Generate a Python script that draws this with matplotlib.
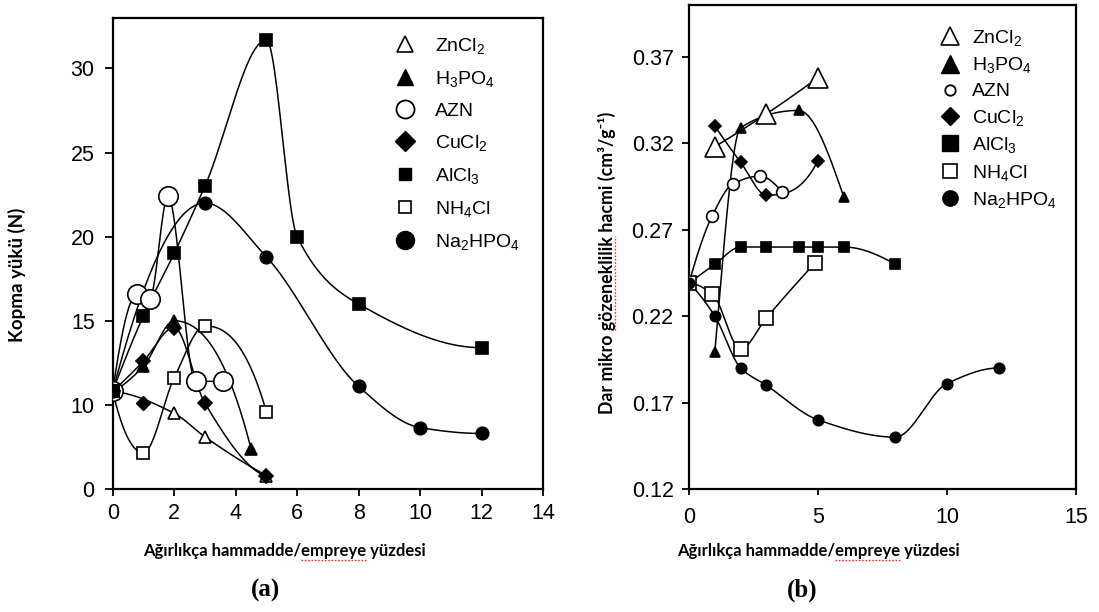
import numpy as np
import matplotlib
matplotlib.use("Agg")
import matplotlib.pyplot as plt
from matplotlib.lines import Line2D

plt.rcParams['font.family'] = ['Liberation Sans', 'DejaVu Sans']
plt.rcParams['mathtext.fontset'] = 'custom'
plt.rcParams['mathtext.rm'] = 'Liberation Sans'
plt.rcParams['mathtext.default'] = 'regular'

# ---------------- data: panel (a) breaking load (N) ----------------
a_zncl2_x = [0, 2, 3, 5]
a_zncl2_y = [10.8, 9.0, 6.2, 1.6]
a_h3po4_x = [0, 1, 2, 4.5]
a_h3po4_y = [10.8, 12.3, 15.0, 4.8]
a_azn_x = [0, 0.8, 1.2, 1.8, 2.7, 3.6]
a_azn_y = [10.8, 16.6, 16.3, 22.4, 11.4, 11.4]
a_cucl2_x = [0, 1, 2, 3, 5]
a_cucl2_y = [10.8, 12.6, 14.6, 10.1, 1.5]
a_cucl2_extra_x = [1]
a_cucl2_extra_y = [10.1]
a_alcl3_x = [0, 1, 2, 3, 5, 6, 8, 12]
a_alcl3_y = [10.8, 15.3, 19.0, 23.0, 31.7, 20.0, 16.0, 13.4]
a_nh4cl_x = [0, 1, 2, 3, 5]
a_nh4cl_y = [10.8, 4.3, 11.6, 14.7, 9.2]
a_na2hpo4_x = [0, 3, 5, 8, 10, 12]
a_na2hpo4_y = [10.8, 22.0, 18.8, 11.1, 7.3, 6.6]

a_xticks = [0, 2, 4, 6, 8, 10, 12, 14]
a_yticks = [0, 10, 15, 20, 25, 30]

# ---------------- data: panel (b) narrow micropore volume ----------------
b_zncl2_x = [1, 3, 5]
b_zncl2_y = [0.318, 0.337, 0.358]
b_h3po4_x = [1, 2, 4.25, 6]
b_h3po4_y = [0.199, 0.329, 0.339, 0.289]
b_azn_x = [0, 0.9, 1.7, 2.75, 3.6]
b_azn_y = [0.239, 0.278, 0.2965, 0.301, 0.292]
b_cucl2_x = [1, 2, 3, 5]
b_cucl2_y = [0.330, 0.309, 0.290, 0.310]
b_alcl3_x = [0, 1, 2, 3, 4.25, 5, 6, 8]
b_alcl3_y = [0.239, 0.250, 0.260, 0.260, 0.260, 0.260, 0.260, 0.250]
b_nh4cl_x = [0, 0.9, 2, 3, 4.9]
b_nh4cl_y = [0.239, 0.233, 0.201, 0.219, 0.251]
b_na2hpo4_x = [0, 1, 2, 3, 5, 8, 10, 12]
b_na2hpo4_y = [0.239, 0.220, 0.190, 0.180, 0.160, 0.150, 0.181, 0.190]

b_xticks = [0, 5, 10, 15]
b_yticks = [0.12, 0.17, 0.22, 0.27, 0.32, 0.37]

labels = ['ZnCl$_2$', 'H$_3$PO$_4$', 'AZN', 'CuCl$_2$', 'AlCl$_3$', 'NH$_4$Cl', 'Na$_2$HPO$_4$']
xlabel_text = 'Ağırlıkça hammadde/empreye yüzdesi'
ylabel_a = 'Kopma yükü (N)'
ylabel_b = 'Dar mikro gözeneklilik hacmi (cm³/g⁻¹)'


def pchip(x, y, num=300):
    x = np.asarray(x, float)
    y = np.asarray(y, float)
    if len(x) == 2:
        xs = np.linspace(x[0], x[-1], num)
        return xs, np.interp(xs, x, y)
    h = np.diff(x)
    d = np.diff(y) / h
    m = np.zeros_like(y)
    for k in range(1, len(x) - 1):
        if d[k - 1] * d[k] <= 0:
            m[k] = 0.0
        else:
            w1 = 2 * h[k] + h[k - 1]
            w2 = h[k] + 2 * h[k - 1]
            m[k] = (w1 + w2) / (w1 / d[k - 1] + w2 / d[k])

    def end(h0, h1, d0, d1):
        mm = ((2 * h0 + h1) * d0 - h0 * d1) / (h0 + h1)
        if np.sign(mm) != np.sign(d0):
            mm = 0.0
        elif np.sign(d0) != np.sign(d1) and abs(mm) > abs(3 * d0):
            mm = 3 * d0
        return mm

    m[0] = end(h[0], h[1], d[0], d[1])
    m[-1] = end(h[-1], h[-2], d[-1], d[-2])
    xs = np.linspace(x[0], x[-1], num)
    idx = np.clip(np.searchsorted(x, xs) - 1, 0, len(h) - 1)
    t = (xs - x[idx]) / h[idx]
    h00 = 2 * t**3 - 3 * t**2 + 1
    h10 = t**3 - 2 * t**2 + t
    h01 = -2 * t**3 + 3 * t**2
    h11 = t**3 - t**2
    ys = h00 * y[idx] + h10 * h[idx] * m[idx] + h01 * y[idx + 1] + h11 * h[idx] * m[idx + 1]
    return xs, ys


def fwd(v):
    v = np.asarray(v, float)
    return np.where(v < 10, v / 2.0, v - 5.0)


def inv(p):
    p = np.asarray(p, float)
    return np.where(p < 5, p * 2.0, p + 5.0)


W, H = 1099, 612
fig = plt.figure(figsize=(W / 100, H / 100), dpi=100)

axA = fig.add_axes([112.7 / W, (H - 489) / H, (543 - 112.7) / W, (489 - 18) / H])
axB = fig.add_axes([689 / W, (H - 489) / H, (1076 - 689) / W, (489 - 5) / H])

for ax in (axA, axB):
    for s in ax.spines.values():
        s.set_linewidth(1.6)
    ax.tick_params(direction='out', top=False, right=False, width=1.3,
                   labelsize=15.5)

# ---- panel (a) ----
axA.set_yscale('function', functions=(fwd, inv))
A_series = [
    (a_zncl2_x, a_zncl2_y, '^', 'white', 8),
    (a_h3po4_x, a_h3po4_y, '^', 'black', 8),
    (a_azn_x, a_azn_y, 'o', 'white', 14),
    (a_cucl2_x, a_cucl2_y, 'D', 'black', 7),
    (a_alcl3_x, a_alcl3_y, 's', 'black', 8.5),
    (a_nh4cl_x, a_nh4cl_y, 's', 'white', 8.5),
    (a_na2hpo4_x, a_na2hpo4_y, 'o', 'black', 9),
]
for x, y, mk, fc, ms in A_series:
    xs, ys = pchip(x, fwd(y))
    axA.plot(xs, inv(ys), color='black', lw=1.1, zorder=2)
    axA.plot(x, y, ls='none', marker=mk, mfc=fc, mec='black', mew=1.2, ms=ms, zorder=3)
axA.plot(a_cucl2_extra_x, a_cucl2_extra_y, ls='none', marker='D', mfc='black',
         mec='black', ms=7, zorder=3)
axA.set_xlim(0, 14)
axA.set_ylim(0, 33.0)
axA.set_xticks(a_xticks)
axA.set_yticks(a_yticks)
axA.set_yticklabels([str(t) for t in a_yticks])
axA.yaxis.set_minor_locator(matplotlib.ticker.NullLocator())
axA.tick_params(axis='y', length=6, pad=7)
axA.tick_params(axis='x', length=5, pad=5)

legA_handles = [
    Line2D([], [], ls='none', marker='^', mfc='white', mec='black', mew=1.2, ms=12),
    Line2D([], [], ls='none', marker='^', mfc='black', mec='black', ms=12),
    Line2D([], [], ls='none', marker='o', mfc='white', mec='black', mew=1.3, ms=13),
    Line2D([], [], ls='none', marker='D', mfc='black', mec='black', ms=10),
    Line2D([], [], ls='none', marker='s', mfc='black', mec='black', ms=9),
    Line2D([], [], ls='none', marker='s', mfc='white', mec='black', mew=1.2, ms=9),
    Line2D([], [], ls='none', marker='o', mfc='black', mec='black', ms=13),
]
axA.legend(legA_handles, labels, loc='upper left', bbox_to_anchor=(393 / W, 1 - 36 / H),
           bbox_transform=fig.transFigure, frameon=False, fontsize=14,
           handlelength=1.2, handletextpad=0.95, labelspacing=0.67,
           borderpad=0, borderaxespad=0)

# ---- panel (b) ----
B_series = [
    (b_zncl2_x, b_zncl2_y, '^', 'white', 14),
    (b_h3po4_x, b_h3po4_y, '^', 'black', 6.5),
    (b_azn_x, b_azn_y, 'o', 'white', 8.5),
    (b_cucl2_x, b_cucl2_y, 'D', 'black', 6),
    (b_alcl3_x, b_alcl3_y, 's', 'black', 6.5),
    (b_nh4cl_x, b_nh4cl_y, 's', 'white', 9.5),
    (b_na2hpo4_x, b_na2hpo4_y, 'o', 'black', 7.5),
]
for x, y, mk, fc, ms in B_series:
    xs, ys = pchip(x, y)
    axB.plot(xs, ys, color='black', lw=1.1, zorder=2)
    axB.plot(x, y, ls='none', marker=mk, mfc=fc, mec='black', mew=1.2, ms=ms, zorder=3)
axB.set_xlim(0, 15)
axB.set_ylim(0.12, 0.40)
axB.set_xticks(b_xticks)
axB.set_yticks(b_yticks)
axB.set_yticklabels(['%.2f' % t for t in b_yticks])
axB.tick_params(axis='y', length=5, pad=6)
axB.tick_params(axis='x', length=4, pad=9)

legB_handles = [
    Line2D([], [], ls='none', marker='^', mfc='white', mec='black', mew=1.2, ms=13),
    Line2D([], [], ls='none', marker='^', mfc='black', mec='black', ms=13),
    Line2D([], [], ls='none', marker='o', mfc='white', mec='black', mew=1.3, ms=7.5),
    Line2D([], [], ls='none', marker='D', mfc='black', mec='black', ms=9),
    Line2D([], [], ls='none', marker='s', mfc='black', mec='black', ms=11),
    Line2D([], [], ls='none', marker='s', mfc='white', mec='black', mew=1.2, ms=10),
    Line2D([], [], ls='none', marker='o', mfc='black', mec='black', ms=11),
]
axB.legend(legB_handles, labels, loc='upper left', bbox_to_anchor=(938 / W, 1 - 28 / H),
           bbox_transform=fig.transFigure, frameon=False, fontsize=14,
           handlelength=1.2, handletextpad=0.55, labelspacing=0.38,
           borderpad=0, borderaxespad=0)

# ---- texts ----
lab_font = ['Lato', 'DejaVu Sans']
lab_kw = dict(family=lab_font, fontweight='bold')
fig.text(17 / W, 1 - 275 / H, ylabel_a, rotation=90, ha='center', va='center',
         fontsize=13.5, **lab_kw)
yb_size = 12.8
yb_cx, yb_cy = 607, 263
fig.text(yb_cx / W, 1 - yb_cy / H, ylabel_b, rotation=90,
         ha='center', va='center', fontsize=yb_size, **lab_kw)
xl_size = 12
xlab_pos = [284, 818]
for cx in xlab_pos:
    fig.text(cx / W, 1 - 551 / H, xlabel_text, ha='center', va='center',
             fontsize=xl_size, **lab_kw)
fig.text(266 / W, 1 - 590 / H, '(a)', ha='center', va='center',
         family=['Liberation Serif'], fontweight='bold', fontsize=18)
fig.text(802 / W, 1 - 590 / H, '(b)', ha='center', va='center',
         family=['Liberation Serif'], fontweight='bold', fontsize=18)

# ---- red spell-check underlines (measured from the rendered text) ----
renderer = fig.canvas.get_renderer()


def text_width(s, size):
    t = fig.text(0, 0, s, fontsize=size, **lab_kw)
    w = t.get_window_extent(renderer).width
    t.remove()
    return w


full_w = text_width(xlabel_text, xl_size)
pre_w = text_width('Ağırlıkça hammadde/', xl_size)
word_w = text_width('empreye', xl_size)
for cx in xlab_pos:
    x0 = cx - full_w / 2 + pre_w
    fig.add_artist(Line2D([x0 / W, (x0 + word_w) / W], [1 - 560 / H, 1 - 560 / H],
                          transform=fig.transFigure, color='#e03030', lw=1.0,
                          ls=(0, (1.2, 1.2))))

full_b = text_width(ylabel_b, yb_size)
pre_b = text_width('Dar mikro ', yb_size)
word_b = text_width('gözeneklilik', yb_size)
y0 = yb_cy + full_b / 2 - pre_b
fig.add_artist(Line2D([(yb_cx + 8) / W, (yb_cx + 8) / W],
                      [1 - y0 / H, 1 - (y0 - word_b) / H],
                      transform=fig.transFigure, color='#e03030', lw=1.0,
                      ls=(0, (1.2, 1.2))))

fig.savefig('out.png', dpi=100)
